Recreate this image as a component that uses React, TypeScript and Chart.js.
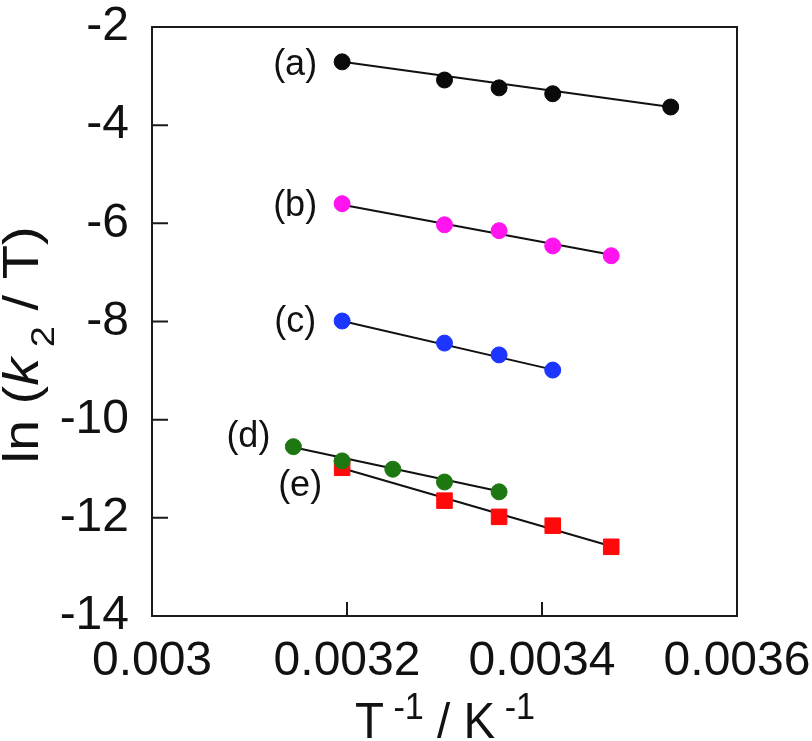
import { useEffect, useRef } from 'react';
import { Chart, registerables } from 'chart.js';

Chart.register(...registerables);

const FONT = '"Liberation Sans", Arial, Helvetica, sans-serif';

// 1/T values (K^-1) and ln(k2/T) for each series
const xA = [0.003195, 0.0033, 0.003356, 0.003411, 0.003532];
const yA = [-2.71, -3.08, -3.24, -3.36, -3.63];
const xB = [0.003195, 0.0033, 0.003356, 0.003411, 0.003471];
const yB = [-5.6, -6.03, -6.15, -6.46, -6.66];
const xC = [0.003195, 0.0033, 0.003356, 0.003411];
const yC = [-7.99, -8.44, -8.68, -8.99];
const xD = [0.003145, 0.003195, 0.003247, 0.0033, 0.003356];
const yD = [-10.55, -10.84, -11.01, -11.27, -11.47];
const xE = [0.003195, 0.0033, 0.003356, 0.003411, 0.003471];
const yE = [-10.98, -11.65, -11.98, -12.16, -12.59];

// fitted lines, y at the first and last x of each series
const fitA = [-2.71, -3.63];
const fitB = [-5.62, -6.64];
const fitC = [-7.99, -8.98];
const fitD = [-10.56, -11.46];
const fitE = [-10.99, -12.58];

const seriesLabels = ['(a)', '(b)', '(c)', '(d)', '(e)'];
const xTicks = [0.003, 0.0032, 0.0034, 0.0036];
const xTickLabels = ['0.003', '0.0032', '0.0034', '0.0036'];
const yTicks = [-14, -12, -10, -8, -6, -4, -2];

const colors = ['#0a0a0a', '#ff14f0', '#1c35ff', '#1d7812', '#ff0a0a'];
// label offset from first point, px
const labelOffsets = [[-47, 3], [-47, 2], [-47, 1], [-45, -10], [-42, 18]];

const series = [
    [xA, yA, fitA],
    [xB, yB, fitB],
    [xC, yC, fitC],
    [xD, yD, fitD],
    [xE, yE, fitE],
];

type Seg = { t: string, size: number, dy?: number, italic?: boolean };

function drawRich(ctx: CanvasRenderingContext2D, segs: Seg[], stretch: number) {
    // draws centred at origin, baseline at y=0
    let w = 0;
    const widths = segs.map(s => {
        ctx.font = `${s.italic ? 'italic ' : ''}${s.size}px ${FONT}`;
        const m = ctx.measureText(s.t).width;
        w += m;
        return m;
    });
    ctx.save();
    ctx.scale(stretch, 1);
    let x = -w / 2;
    segs.forEach((s, i) => {
        ctx.font = `${s.italic ? 'italic ' : ''}${s.size}px ${FONT}`;
        ctx.fillText(s.t, x, s.dy || 0);
        x += widths[i];
    });
    ctx.restore();
}

const framePlugin = {
    id: 'frame',
    afterDraw(chart: any) {
        const { ctx, chartArea: a, scales } = chart;
        ctx.save();
        ctx.strokeStyle = '#1a1a1a';
        ctx.lineWidth = 2;
        ctx.strokeRect(a.left, a.top, a.right - a.left, a.bottom - a.top);
        ctx.beginPath();
        yTicks.forEach(v => {
            const y = scales.y.getPixelForValue(v);
            ctx.moveTo(a.left, y);
            ctx.lineTo(a.left + 16, y);
        });
        xTicks.forEach(v => {
            const x = scales.x.getPixelForValue(v);
            ctx.moveTo(x, a.bottom);
            ctx.lineTo(x, a.bottom - 14);
        });
        ctx.stroke();

        // series labels
        ctx.fillStyle = '#111';
        ctx.font = `36px ${FONT}`;
        ctx.textAlign = 'center';
        ctx.textBaseline = 'middle';
        seriesLabels.forEach((lab, i) => {
            const p = chart.getDatasetMeta(i * 2 + 1).data[0];
            ctx.fillText(lab, p.x + labelOffsets[i][0], p.y + labelOffsets[i][1]);
        });

        // axis titles
        ctx.textAlign = 'left';
        ctx.textBaseline = 'alphabetic';
        ctx.save();
        ctx.translate(445, 738);
        drawRich(ctx, [
            { t: 'T', size: 50 },
            { t: ' -1', size: 36, dy: -19 },
            { t: ' / K', size: 50 },
            { t: ' -1', size: 36, dy: -19 },
        ], 0.95);
        ctx.restore();

        ctx.save();
        ctx.translate(38, 345);
        ctx.rotate(-Math.PI / 2);
        drawRich(ctx, [
            { t: 'ln (', size: 50 },
            { t: 'k', size: 50, italic: true },
            { t: ' 2', size: 34, dy: 16 },
            { t: ' / T)', size: 50 },
        ], 1.12);
        ctx.restore();
        ctx.restore();
    },
};

function App() {
    const canvasRef = useRef<HTMLCanvasElement>(null);
    const chartRef = useRef<Chart | null>(null);

    useEffect(() => {
        if (!canvasRef.current) return;
        const ctx = canvasRef.current.getContext('2d');
        if (!ctx) return;
        if (chartRef.current) chartRef.current.destroy();

        const datasets: any[] = [];
        series.forEach(([xs, ys, fit], i) => {
            datasets.push({
                type: 'scatter',
                data: [
                    { x: xs[0], y: fit[0] },
                    { x: xs[xs.length - 1], y: fit[1] },
                ],
                showLine: true,
                borderColor: '#111',
                borderWidth: 2,
                pointRadius: 0,
                order: 2,
            });
            datasets.push({
                type: 'scatter',
                data: xs.map((x, k) => ({ x, y: ys[k] })),
                backgroundColor: colors[i],
                borderColor: colors[i],
                borderWidth: 1,
                pointStyle: i === 4 ? 'rect' : 'circle',
                pointRadius: i === 4 ? 11 : 8,
                order: 1,
            });
        });

        chartRef.current = new Chart(ctx, {
            type: 'scatter',
            data: { datasets },
            options: {
                animation: false,
                responsive: true,
                maintainAspectRatio: false,
                events: [],
                layout: { padding: { top: 27, right: 75, left: 0, bottom: 0 } },
                plugins: {
                    legend: { display: false },
                    tooltip: { enabled: false },
                    title: { display: false },
                },
                scales: {
                    x: {
                        type: 'linear',
                        min: 0.003,
                        max: 0.0036,
                        afterBuildTicks: (s: any) => { s.ticks = xTicks.map(v => ({ value: v })); },
                        afterFit: (s: any) => {
                            s.height = 125;
                            s.paddingLeft = 0;
                            s.paddingRight = 0;
                        },
                        grid: { display: false },
                        border: { display: false },
                        ticks: {
                            callback: (_v: any, i: number) => xTickLabels[i],
                            font: { size: 48, family: FONT, lineHeight: 1 },
                            color: '#111',
                            padding: 14,
                            maxRotation: 0,
                            autoSkip: false,
                        },
                    },
                    y: {
                        type: 'linear',
                        min: -14,
                        max: -2,
                        afterBuildTicks: (s: any) => { s.ticks = yTicks.map(v => ({ value: v })); },
                        afterFit: (s: any) => {
                            s.width = 152;
                            s.paddingTop = 0;
                            s.paddingBottom = 0;
                        },
                        grid: { display: false },
                        border: { display: false },
                        ticks: {
                            callback: (v: any) => String(v),
                            font: { size: 48, family: FONT, lineHeight: 1 },
                            color: '#111',
                            padding: 15,
                            autoSkip: false,
                        },
                    },
                },
            },
            plugins: [framePlugin],
        });

        return () => {
            if (chartRef.current) {
                chartRef.current.destroy();
                chartRef.current = null;
            }
        };
    }, []);

    return (
        <div style={{ position: 'fixed', left: 0, top: 0, width: 812, height: 741, background: '#fff' }}>
            <canvas ref={canvasRef} />
        </div>
    );
}

export default App;
